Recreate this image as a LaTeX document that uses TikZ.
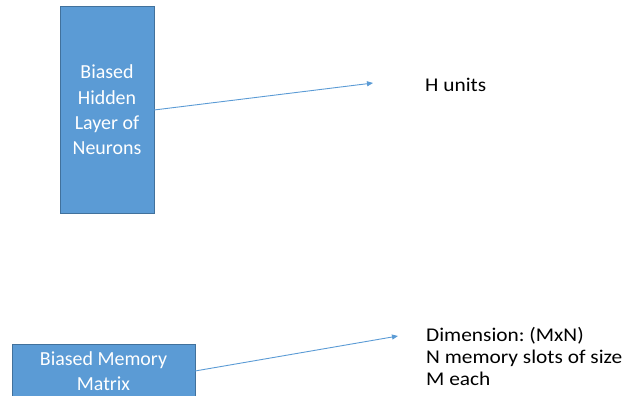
\documentclass[tikz,border=0pt]{standalone}
\usepackage{fontspec}
\setmainfont{Carlito}
\newfontfamily\widecarlito[FakeStretch=1.1]{Carlito}
\usetikzlibrary{arrows.meta}
\frenchspacing
\definecolor{boxfill}{HTML}{5B9BD5}
\definecolor{boxedge}{HTML}{41719C}
\definecolor{linkblue}{HTML}{5B9BD5}
\tikzset{
  layerbox/.style={draw=boxedge, fill=boxfill, line width=0.8bp},
  boxtext/.style={text=white, font=\fontsize{20}{25}\selectfont, align=center, inner sep=0pt},
  plaintext/.style={text=black, font=\widecarlito\fontsize{19.5}{22}\selectfont, align=left, inner sep=0pt},
  link/.style={draw=linkblue, line width=0.9bp, -{Triangle[length=6bp,width=5bp]}}
}
\begin{document}
\begin{tikzpicture}[x=1bp, y=-1bp]
\useasboundingbox (0,0) rectangle (629,395);
% hidden layer box
\draw[layerbox] (60,6) rectangle (154,213);
\node[boxtext, font=\fontsize{20}{25.5}\selectfont] (hidden) at (107,110) {Biased\\Hidden\\Layer of\\Neurons};
\coordinate (hiddenR) at (154,110);
\coordinate (hend) at (373,83);
\node[plaintext, anchor=base west] (hunits) at (425,91) {H units};
\draw[link] (hiddenR) -- (hend);
% memory matrix box
\draw[layerbox] (12,344) rectangle (195,398);
\node[boxtext] (memory) at (103.5,371) {Biased Memory\\Matrix};
\coordinate (memR) at (195,371);
\coordinate (mend) at (398,336);
\node[plaintext, anchor=north west] (dims) at (426,327) {Dimension: (MxN)\\N memory slots of size\\M each};
\draw[link] (memR) -- (mend);
\end{tikzpicture}
\end{document}
